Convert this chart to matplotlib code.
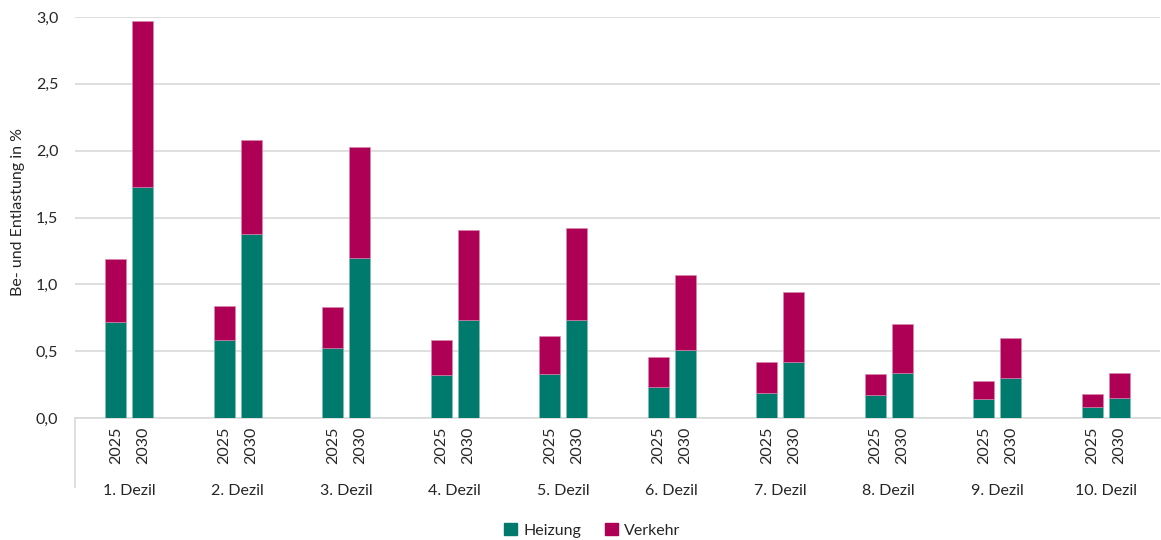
import matplotlib.pyplot as plt
import numpy as np
from matplotlib.patches import Patch
from matplotlib.lines import Line2D

plt.rcParams['font.family'] = ['Lato', 'DejaVu Sans']

deciles = ['1. Dezil', '2. Dezil', '3. Dezil', '4. Dezil', '5. Dezil',
           '6. Dezil', '7. Dezil', '8. Dezil', '9. Dezil', '10. Dezil']
years = ['2025', '2030']

# Heizung share per decile
heizung_2025 = [0.72, 0.58, 0.52, 0.32, 0.33, 0.23, 0.19, 0.17, 0.14, 0.08]
heizung_2030 = [1.73, 1.38, 1.20, 0.73, 0.73, 0.51, 0.42, 0.34, 0.30, 0.15]
# Verkehr share per decile
verkehr_2025 = [0.47, 0.26, 0.31, 0.26, 0.28, 0.23, 0.23, 0.16, 0.14, 0.10]
verkehr_2030 = [1.24, 0.70, 0.83, 0.68, 0.69, 0.56, 0.52, 0.36, 0.30, 0.19]

teal = '#007a6c'
magenta = '#ae0055'
grid_col = '#d9d9d9'
text_col = '#262626'
fs = 11.5

fig = plt.figure(figsize=(11.61, 5.4), dpi=100)
ax = fig.add_axes([75 / 1161, 1 - 418 / 540, 1085 / 1161, 401 / 540])

x = np.arange(len(deciles))
off = 0.124
w = 0.19
for xs, h, v in [(x - off, heizung_2025, verkehr_2025), (x + off, heizung_2030, verkehr_2030)]:
    ax.bar(xs, h, w, color=teal, edgecolor='#7fbcb5', linewidth=0.4, zorder=3)
    ax.bar(xs, v, w, bottom=h, color=magenta, edgecolor='#d98aae', linewidth=0.4, zorder=3)

ax.set_xlim(-0.5, 9.5)
ax.set_ylim(0, 3.0)
ax.set_yticks(np.arange(0, 3.01, 0.5))
ax.set_yticklabels([f'{t:.1f}'.replace('.', ',') for t in np.arange(0, 3.01, 0.5)])
ax.yaxis.grid(True, color=grid_col, linewidth=1.2, zorder=0)
ax.set_xticks([])
ax.tick_params(axis='y', length=0, labelsize=fs, labelcolor=text_col, pad=12)
for s in ['top', 'right', 'left']:
    ax.spines[s].set_visible(False)
ax.spines['bottom'].set_color(grid_col)
ax.spines['bottom'].set_linewidth(1.2)

# multi-level category labels
trans = ax.get_xaxis_transform()
for i, d in enumerate(deciles):
    for j, yr in enumerate(years):
        ax.text(i + (2 * j - 1) * off, -0.022, yr, rotation=90, ha='center', va='top',
                fontsize=fs, color=text_col, transform=trans)
    ax.text(i, -0.182, d, ha='center', va='center', fontsize=fs, color=text_col,
            transform=trans)
ax.add_line(Line2D([-0.5, -0.5], [0, -0.172], transform=trans, color=grid_col,
                   linewidth=1.2, clip_on=False))

fig.text(18 / 1161, 1 - 212 / 540, 'Be- und Entlastung in %', rotation=90,
         ha='center', va='center', fontsize=fs, color=text_col)

handles = [Patch(color=teal, label='Heizung'), Patch(color=magenta, label='Verkehr')]
fig.legend(handles=handles, loc='center', bbox_to_anchor=(0.51, 0.018), ncol=2,
           frameon=False, fontsize=fs, handlelength=0.8, handleheight=0.8,
           handletextpad=0.4, columnspacing=1.5, labelcolor=text_col)

fig.savefig('out.png', dpi=100)
